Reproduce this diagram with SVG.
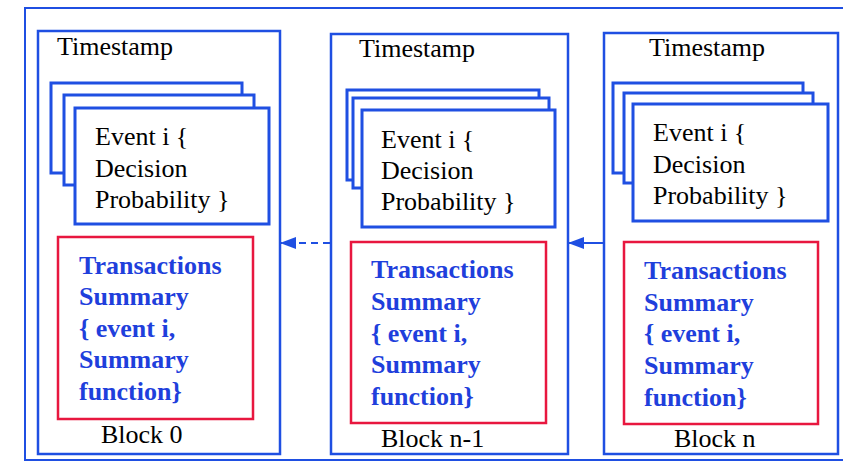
<svg xmlns="http://www.w3.org/2000/svg" width="843" height="462" viewBox="0 0 843 462">
  <style>
    .frame { fill: none; stroke: #1f4fe2; stroke-width: 2; }
    .block { fill: #ffffff; stroke: #1f4fe2; stroke-width: 2.5; }
    .event { fill: #ffffff; stroke: #1f4fe2; stroke-width: 3; }
    .summary { fill: #ffffff; stroke: #e8173f; stroke-width: 2.5; }
    .label { font-family: 'Liberation Serif', 'Times New Roman', serif; font-size: 26px; fill: #000000; }
    .tx { font-family: 'Liberation Serif', 'Times New Roman', serif; font-size: 26px; font-weight: bold; fill: #1f3fdc; }
    .link { stroke: #1f4fe2; stroke-width: 2; fill: none; }
  </style>
  <defs>
    <marker id="head" viewBox="0 0 16 12" refX="15" refY="6" markerWidth="16" markerHeight="12" markerUnits="userSpaceOnUse" orient="auto">
      <path d="M0,0 L16,6 L0,12 Z" fill="#1f4fe2"/>
    </marker>
  </defs>

  <!-- outer frame, right edge runs past the canvas -->
  <rect class="frame" x="25" y="8" width="840" height="452"/>

  <g id="block-0">
    <rect class="block" x="38" y="31" width="242" height="423"/>
    <text class="label" x="57" y="55">Timestamp</text>
    <rect class="event" x="51" y="83" width="191" height="90"/>
    <rect class="event" x="64" y="95" width="190" height="90"/>
    <rect class="event" x="75" y="108" width="194" height="116"/>
    <text class="label" x="95" y="145">Event i {</text>
    <text class="label" x="95" y="177">Decision</text>
    <text class="label" x="95" y="208">Probability }</text>
    <rect class="summary" x="58" y="237" width="195" height="182"/>
    <text class="tx" x="79" y="274">Transactions</text>
    <text class="tx" x="79" y="305">Summary</text>
    <text class="tx" x="79" y="337">{ event i,</text>
    <text class="tx" x="79" y="368">Summary</text>
    <text class="tx" x="79" y="400">function}</text>
    <text class="label" x="101" y="443">Block 0</text>
  </g>

  <g id="block-n-1">
    <rect class="block" x="331" y="34" width="237" height="420"/>
    <text class="label" x="359" y="57">Timestamp</text>
    <rect class="event" x="347" y="90" width="192" height="90"/>
    <rect class="event" x="353" y="98" width="196" height="90"/>
    <rect class="event" x="362" y="110" width="193" height="117"/>
    <text class="label" x="381" y="148">Event i {</text>
    <text class="label" x="381" y="179">Decision</text>
    <text class="label" x="381" y="210">Probability }</text>
    <rect class="summary" x="351" y="242" width="195" height="181"/>
    <text class="tx" x="371" y="278">Transactions</text>
    <text class="tx" x="371" y="310">Summary</text>
    <text class="tx" x="371" y="342">{ event i,</text>
    <text class="tx" x="371" y="373">Summary</text>
    <text class="tx" x="371" y="405">function}</text>
    <text class="label" x="381" y="447">Block n-1</text>
  </g>

  <g id="block-n">
    <rect class="block" x="604" y="33" width="234" height="421"/>
    <text class="label" x="649" y="56">Timestamp</text>
    <rect class="event" x="613" y="83" width="190" height="90"/>
    <rect class="event" x="624" y="93" width="189" height="90"/>
    <rect class="event" x="633" y="104" width="195" height="117"/>
    <text class="label" x="653" y="141">Event i {</text>
    <text class="label" x="653" y="173">Decision</text>
    <text class="label" x="653" y="204">Probability }</text>
    <rect class="summary" x="624" y="242" width="194" height="182"/>
    <text class="tx" x="644" y="279">Transactions</text>
    <text class="tx" x="644" y="311">Summary</text>
    <text class="tx" x="644" y="342">{ event i,</text>
    <text class="tx" x="644" y="374">Summary</text>
    <text class="tx" x="644" y="406">function}</text>
    <text class="label" x="674" y="447">Block n</text>
  </g>

  <g id="connectors">
    <line class="link" x1="330" y1="243" x2="281" y2="243" stroke-dasharray="7 5" marker-end="url(#head)"/>
    <line class="link" x1="603" y1="243" x2="569" y2="243" marker-end="url(#head)"/>
  </g>
</svg>
